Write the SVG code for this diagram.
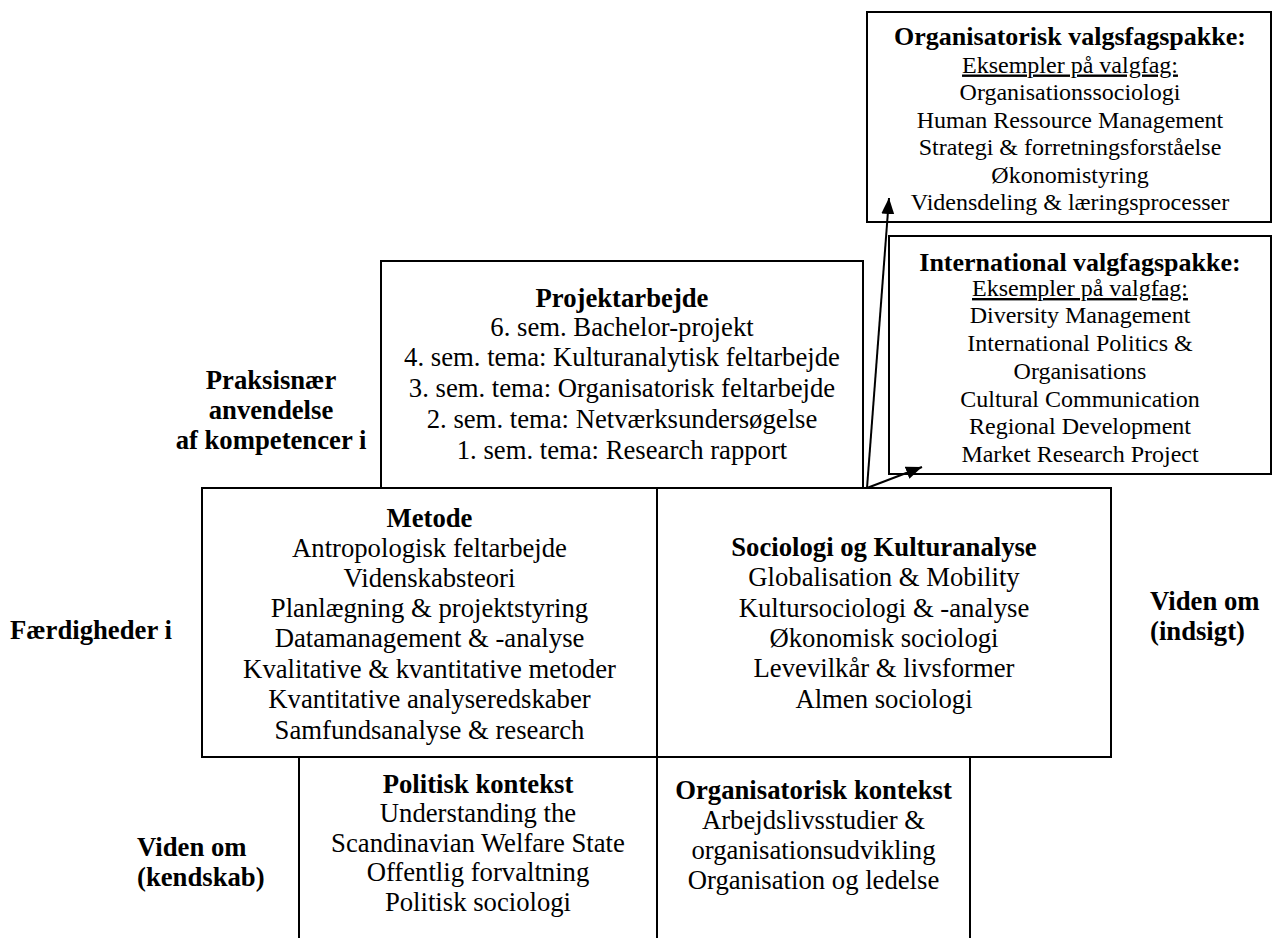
<svg xmlns="http://www.w3.org/2000/svg" width="1272" height="938" viewBox="0 0 1272 938">
<style>
  text { font-family: "Liberation Serif", "Times New Roman", serif; fill: #000; }
  .t { font-size: 26.7px; text-anchor: middle; }
  .b { font-size: 26.7px; font-weight: bold; text-anchor: middle; }
  .bs { font-size: 26px; font-weight: bold; text-anchor: middle; }
  .s { font-size: 24px; text-anchor: middle; }
  .u { text-decoration: underline; }
  .lb { font-size: 26.7px; font-weight: bold; }
  .box { fill: none; stroke: #000; stroke-width: 2; }
  .conn { fill: none; stroke: #000; stroke-width: 2; }
</style>
<defs>
  <marker id="arrow" markerUnits="userSpaceOnUse" markerWidth="17" markerHeight="14" refX="16" refY="6.5" orient="auto">
    <path d="M0,0 L16,6.5 L0,13 Z" fill="#000"/>
  </marker>
</defs>
<rect width="1272" height="938" fill="#fff"/>

<g id="org-valgfag">
  <rect class="box" x="867" y="12" width="404" height="210"/>
  <text class="bs" x="1070" y="45">Organisatorisk valgsfagspakke:</text>
  <text class="s u" x="1070" y="72.5">Eksempler på valgfag:</text>
  <text class="s" x="1070" y="100">Organisationssociologi</text>
  <text class="s" x="1070" y="127.5">Human Ressource Management</text>
  <text class="s" x="1070" y="155">Strategi &amp; forretningsforståelse</text>
  <text class="s" x="1070" y="182.5">Økonomistyring</text>
  <text class="s" x="1070" y="210">Vidensdeling &amp; læringsprocesser</text>
</g>

<g id="int-valgfag">
  <rect class="box" x="889" y="236" width="382" height="238"/>
  <text class="bs" x="1080" y="271">International valgfagspakke:</text>
  <text class="s u" x="1080" y="296">Eksempler på valgfag:</text>
  <text class="s" x="1080" y="323.4">Diversity Management</text>
  <text class="s" x="1080" y="351.1">International Politics &amp;</text>
  <text class="s" x="1080" y="378.8">Organisations</text>
  <text class="s" x="1080" y="406.5">Cultural Communication</text>
  <text class="s" x="1080" y="434.2">Regional Development</text>
  <text class="s" x="1080" y="461.9">Market Research Project</text>
</g>

<g id="projektarbejde">
  <rect class="box" x="381" y="261" width="482" height="227"/>
  <text class="b" x="622" y="307">Projektarbejde</text>
  <text class="t" x="622" y="336">6. sem. Bachelor-projekt</text>
  <text class="t" x="622" y="366">4. sem. tema: Kulturanalytisk feltarbejde</text>
  <text class="t" x="622" y="397">3. sem. tema: Organisatorisk feltarbejde</text>
  <text class="t" x="622" y="428">2. sem. tema: Netværksundersøgelse</text>
  <text class="t" x="622" y="459">1. sem. tema: Research rapport</text>
</g>

<g id="metode">
  <rect class="box" x="202" y="488" width="455" height="269"/>
  <text class="b" x="429.5" y="527">Metode</text>
  <text class="t" x="429.5" y="557">Antropologisk feltarbejde</text>
  <text class="t" x="429.5" y="587">Videnskabsteori</text>
  <text class="t" x="429.5" y="617">Planlægning &amp; projektstyring</text>
  <text class="t" x="429.5" y="647">Datamanagement &amp; -analyse</text>
  <text class="t" x="429.5" y="678">Kvalitative &amp; kvantitative metoder</text>
  <text class="t" x="429.5" y="708">Kvantitative analyseredskaber</text>
  <text class="t" x="429.5" y="739">Samfundsanalyse &amp; research</text>
</g>

<g id="sociologi">
  <rect class="box" x="657" y="488" width="454" height="269"/>
  <text class="b" x="884" y="556">Sociologi og Kulturanalyse</text>
  <text class="t" x="884" y="586">Globalisation &amp; Mobility</text>
  <text class="t" x="884" y="617">Kultursociologi &amp; -analyse</text>
  <text class="t" x="884" y="647">Økonomisk sociologi</text>
  <text class="t" x="884" y="677">Levevilkår &amp; livsformer</text>
  <text class="t" x="884" y="708">Almen sociologi</text>
</g>

<g id="politisk-kontekst">
  <path class="box" d="M299,757 V938 M657,757 V938"/>
  <text class="b" x="478" y="793">Politisk kontekst</text>
  <text class="t" x="478" y="822">Understanding the</text>
  <text class="t" x="478" y="852">Scandinavian Welfare State</text>
  <text class="t" x="478" y="881">Offentlig forvaltning</text>
  <text class="t" x="478" y="911">Politisk sociologi</text>
</g>

<g id="organisatorisk-kontekst">
  <path class="box" d="M970,757 V938"/>
  <text class="b" x="813.5" y="799">Organisatorisk kontekst</text>
  <text class="t" x="813.5" y="829">Arbejdslivsstudier &amp;</text>
  <text class="t" x="813.5" y="859">organisationsudvikling</text>
  <text class="t" x="813.5" y="889">Organisation og ledelse</text>
</g>

<g id="label-praksis">
  <text class="b" x="271" y="389">Praksisnær</text>
  <text class="b" x="271" y="419">anvendelse</text>
  <text class="b" x="271" y="449">af kompetencer i</text>
</g>
<g id="label-faerdigheder">
  <text class="lb" x="10" y="639">Færdigheder i</text>
</g>
<g id="label-indsigt">
  <text class="lb" x="1150" y="610">Viden om</text>
  <text class="lb" x="1150" y="640">(indsigt)</text>
</g>
<g id="label-kendskab">
  <text class="lb" x="137" y="856">Viden om</text>
  <text class="lb" x="137" y="886">(kendskab)</text>
</g>

<g id="connectors">
  <line class="conn" x1="867" y1="488" x2="889" y2="198" marker-end="url(#arrow)"/>
  <line class="conn" x1="867" y1="488" x2="922" y2="467" marker-end="url(#arrow)"/>
</g>
</svg>
